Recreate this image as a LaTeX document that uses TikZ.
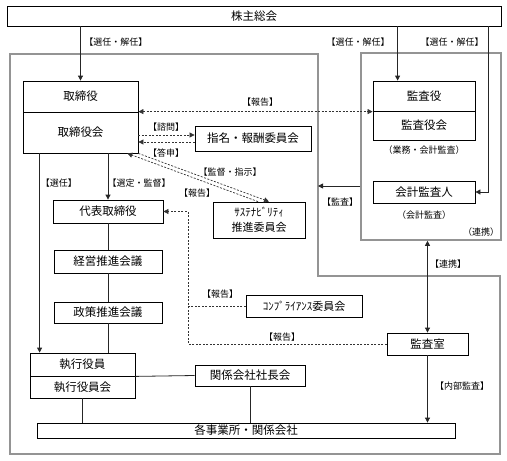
\documentclass[tikz,border=0pt]{standalone}
\usepackage{fontspec}
\setmainfont{Noto Sans CJK JP}
\usetikzlibrary{arrows.meta,calc}
\begin{document}
\begin{tikzpicture}[x=1pt,y=-1pt,
  box/.style={draw, line width=0.8pt, inner sep=0pt, font=\fontsize{11.5}{14}\selectfont, align=center},
  lab/.style={inner sep=0pt, font=\fontsize{9}{10}\selectfont},
  conn/.style={line width=0.8pt, draw=black!85},
  arr/.style={conn, -{Triangle[length=5pt,width=5pt]}},
  darr/.style={conn, {Triangle[length=5pt,width=5pt]}-{Triangle[length=5pt,width=5pt]}},
  dsh/.style={line width=0.7pt, draw=black!80, dash pattern=on 2pt off 1.5pt},
  grp/.style={draw=black!42, line width=1.6pt}
]
\useasboundingbox (0,0) rectangle (507,461);
% group outlines
\draw[grp] (10,54) -- (318,54) -- (318,276) -- (500,276) -- (500,454) -- (10,454) -- cycle;
\node[grp, inner sep=0pt, minimum width=140pt, minimum height=187pt] (kgroup) at (431,146.5) {};

% boxes
\node[box, minimum width=494pt, minimum height=20pt] (soukai) at (254,16) {株主総会};
\node[box, minimum width=115pt, minimum height=31pt] (tori) at (80.5,96.5) {取締役};
\node[box, minimum width=115pt, minimum height=41pt] (torikai) at (80.5,132.5) {取締役会};
\node[box, minimum width=102pt, minimum height=30pt] (kansa) at (424,96) {監査役};
\node[box, minimum width=102pt, minimum height=29pt] (kansakai) at (424,125.5) {監査役会};
\node[box, minimum width=102pt, minimum height=22pt] (kaikei) at (424,192) {会計監査人};
\node[box, minimum width=116pt, minimum height=25pt] (shimei) at (253,138.5) {指名・報酬委員会};
\node[box, minimum width=92pt, minimum height=36pt, font=\fontsize{11}{15}\selectfont] (sust) at (259,220) {ｻｽﾃﾅﾋﾞﾘﾃｨ\\推進委員会};
\node[box, minimum width=110pt, minimum height=23pt] (daihyo) at (108,211.5) {代表取締役};
\node[box, minimum width=108pt, minimum height=23pt] (keiei) at (108,261.5) {経営推進会議};
\node[box, minimum width=108pt, minimum height=21pt] (seisaku) at (108,312.5) {政策推進会議};
\node[box, minimum width=105pt, minimum height=23pt] (shikko) at (82.5,364.5) {執行役員};
\node[box, minimum width=105pt, minimum height=22pt] (shikkokai) at (82.5,387) {執行役員会};
\node[box, minimum width=110pt, minimum height=21pt] (kankei) at (250,375.5) {関係会社社長会};
\node[box, minimum width=116pt, minimum height=22pt, font=\fontsize{11}{14}\selectfont] (comp) at (304,306) {ｺﾝﾌﾟﾗｲｱﾝｽ委員会};
\node[box, minimum width=81pt, minimum height=22pt] (kansashitsu) at (427.5,344) {監査室};
\node[box, minimum width=418pt, minimum height=15pt] (kaku) at (246,430.5) {各事業所・関係会社};

% connectors from shareholders
\draw[arr] (soukai.south -| tori.north) -- (tori.north);
\coordinate (kin) at ($(kansa.north west)+(25,0)$);
\draw[arr] (soukai.south -| kin) -- (kin);
\coordinate (r1) at ($(kaikei.east)+(13,0)$);
\draw[arr] (soukai.south -| r1) -- (r1) -- (kaikei.east);

% report between board and auditors
\draw[dsh, {Triangle[length=5pt,width=5pt]}-{Triangle[length=5pt,width=5pt]}] (torikai.north east) -- (torikai.north east -| kansakai.north west);

% consult / answer
\draw[dsh, -{Triangle[length=5pt,width=5pt]}] ([yshift=3.5pt]shimei.west -| torikai.east) -- ([yshift=3.5pt]shimei.west);
\draw[dsh, -{Triangle[length=5pt,width=5pt]}] ([yshift=-3.5pt]shimei.west) -- ([yshift=-3.5pt]shimei.west -| torikai.east);

% sustainability
\draw[dsh, -{Triangle[length=5pt,width=5pt]}] (torikai.south east) -- ($(sust.north)+(10,0)$);
\draw[dsh, -{Triangle[length=5pt,width=5pt]}] ($(sust.north)+(-1,0)$) -- ($(torikai.south east)+(-11,0)$);

% election lines
\coordinate (s1) at ($(torikai.south west)+(17,0)$);
\draw[arr] (s1) -- (s1 |- shikko.north);
\draw[arr] (torikai.south -| daihyo.north) -- (daihyo.north);
\draw[conn] (daihyo.south) -- (keiei.north);
\draw[conn] (keiei.south) -- (seisaku.north);
\draw[conn] (seisaku.south) -- (seisaku.south |- shikko.north);

% audit arrow
\coordinate (ob) at (318,186);
\draw[arr] (kgroup.west |- ob) -- (ob);
\draw[darr] (kansashitsu.north |- kgroup.south) -- (kansashitsu.north);
\draw[arr] (kansashitsu.south) -- (kansashitsu.south |- kaku.north);

% dashed reports to representative director
\coordinate (dv) at (188,0);
\draw[dsh, -{Triangle[length=5pt,width=5pt]}] (kansashitsu.west) -| (dv |- daihyo.east) -- (daihyo.east);
\draw[dsh] (comp.west) -- (comp.west -| dv);

% executive lines
\draw[conn] (shikko.south east) -- (kankei.west);
\draw[conn] (shikkokai.south) -- (shikkokai.south |- kaku.north);
\draw[conn] (kankei.south) -- (kankei.south |- kaku.north);

% labels
\node[lab] (l1) at (116,42) {【選任・解任】};
\node[lab] (l2) at (358,42) {【選任・解任】};
\node[lab] (l3) at (452,42) {【選任・解任】};
\node[lab] (l4) at (260,102) {【報告】};
\node[lab] (l5) at (166,127) {【諮問】};
\node[lab] (l6) at (166,153) {【答申】};
\node[lab] (l7) at (230,172) {【監督・指示】};
\node[lab] (l8) at (197,193) {【報告】};
\node[lab] (l9) at (59,183) {【選任】};
\node[lab] (l10) at (139,183) {【選定・監督】};
\node[lab] (l11) at (340,202) {【監査】};
\node[lab] (l12) at (424,150) {（業務・会計監査）};
\node[lab] (l13) at (424,215) {（会計監査）};
\node[lab] (l14) at (481,232) {（連携）};
\node[lab] (l15) at (448,264) {【連携】};
\node[lab] (l16) at (220,294) {【報告】};
\node[lab] (l17) at (282,337) {【報告】};
\node[lab] (l18) at (462,386) {【内部監査】};
\end{tikzpicture}
\end{document}
